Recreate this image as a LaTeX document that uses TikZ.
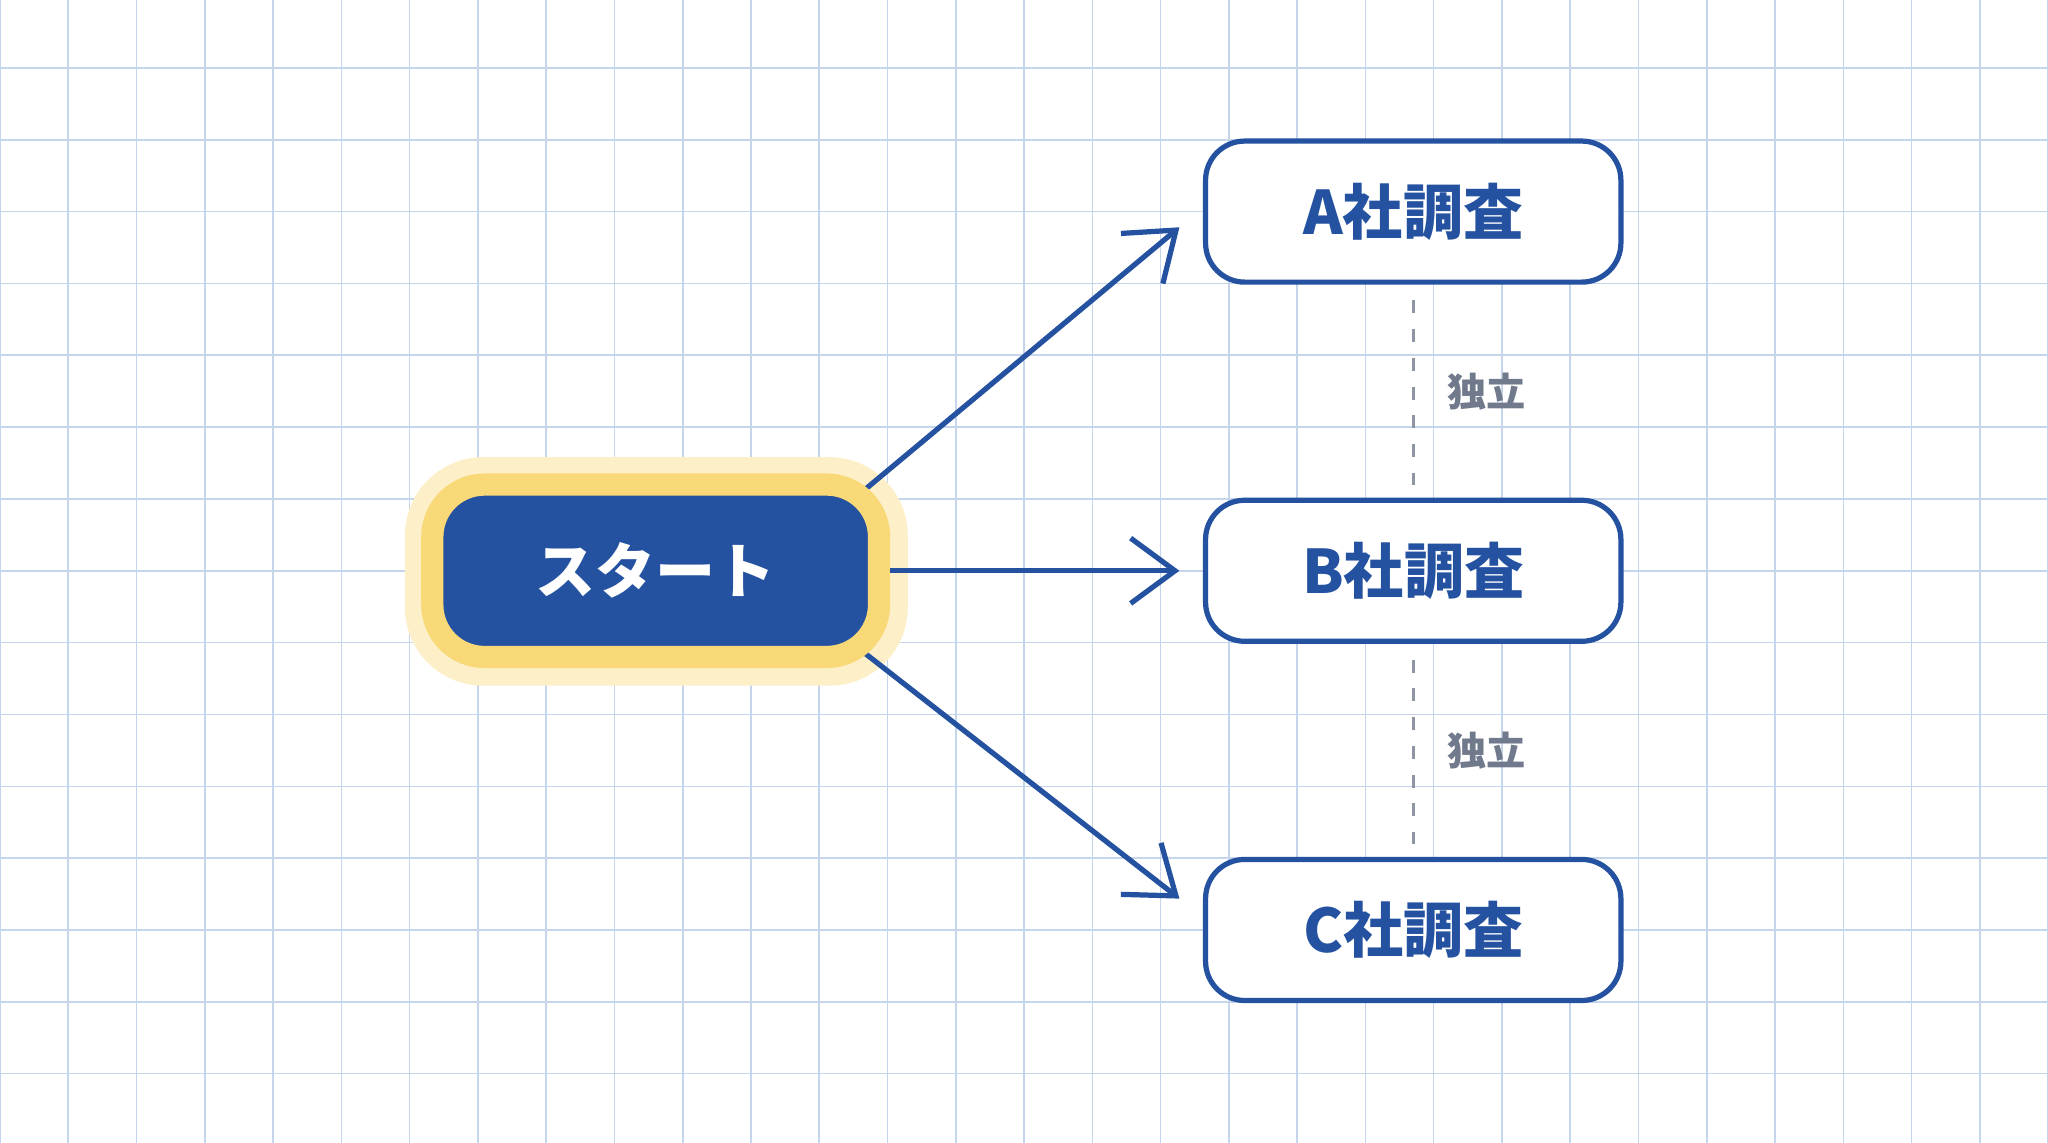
\documentclass[tikz,border=0pt]{standalone}
\usepackage{fontspec}
\newfontfamily\jp{Noto Sans CJK JP}
\usetikzlibrary{arrows.meta}
\definecolor{blu}{HTML}{2452A0}
\definecolor{yel}{HTML}{F9D878}
\definecolor{halo}{HTML}{FDF0C8}
\definecolor{grd}{HTML}{C5D5EC}
\definecolor{gry}{HTML}{707A8C}
\begin{document}
\begin{tikzpicture}[x=1pt,y=-1pt,
 box/.style={draw=blu,line width=4pt,fill=white,rounded corners=30pt,minimum width=318pt,minimum height=108pt,font=\jp\bfseries\fontsize{46}{52}\selectfont,text=blu},
 conn/.style={draw=blu,line width=4pt,-{Straight Barb[length=34pt,width=50pt,line width=4pt]}},
 lab/.style={font=\jp\bfseries\fontsize{30}{34}\selectfont,text=gry}]
\useasboundingbox (0,0) rectangle (1568,875);
\fill[white] (0,0) rectangle (1568,875);
\foreach \i in {0,...,30} \draw[grd,line width=1.2pt] (\i*52.27,0) -- (\i*52.27,875);
\foreach \j in {0,...,16} \draw[grd,line width=1.2pt] (0,52+\j*55) -- (1568,52+\j*55);
\fill[halo,rounded corners=60pt] (310,350) rectangle (695,525);
\node[box] (A) at (1082,162) {A社調査};
\node[box] (B) at (1082,437) {B社調査};
\node[box] (C) at (1082,712) {C社調査};
\coordinate (tA) at (903,174);
\coordinate (tB) at (903,437);
\coordinate (tC) at (903,688);
\coordinate (s1) at (662,375);
\coordinate (s3) at (662,500);
\draw[conn] (s1) -- (tA);
\draw[conn] (s3) -- (tC);
\node[draw=yel,line width=17pt,fill=blu,rounded corners=40pt,minimum width=342pt,minimum height=132pt,text=white,font=\jp\bfseries\fontsize{46}{52}\selectfont] (S) at (502,437) {スタート};
\draw[conn] (S.east) -- (tB);
\draw[gry!80,line width=2.5pt,dash pattern=on 10pt off 12pt] ([yshift=-12pt]A.south) -- ([yshift=10pt]B.north);
\draw[gry!80,line width=2.5pt,dash pattern=on 10pt off 12pt] ([yshift=-12pt]B.south) -- ([yshift=10pt]C.north);
\node[lab] (l1) at (1138,300) {独立};
\node[lab] (l2) at (1138,575) {独立};
\end{tikzpicture}
\end{document}
